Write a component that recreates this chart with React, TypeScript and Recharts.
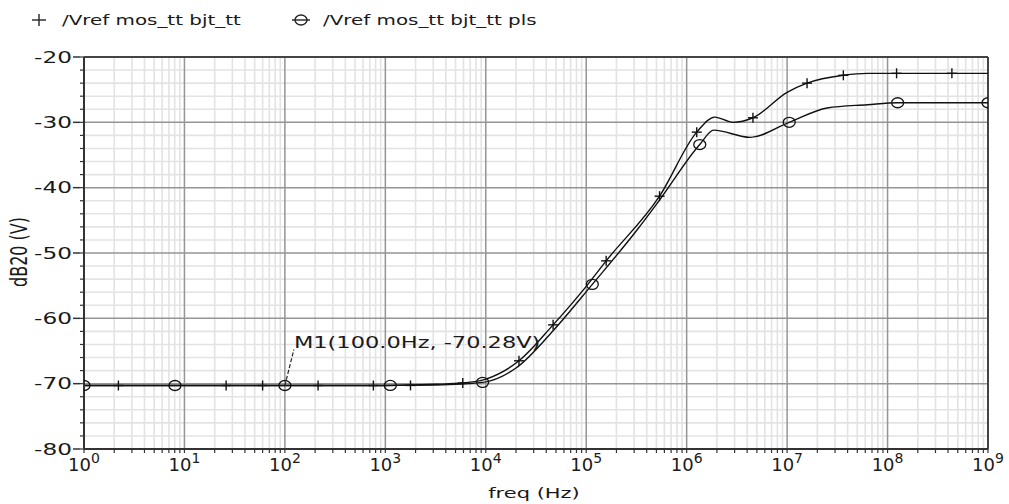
import React from 'react';
import {
  ComposedChart,
  Line,
  XAxis,
  YAxis,
  CartesianGrid,
  ReferenceLine,
  ReferenceDot,
} from 'recharts';

// ---------- data ----------
const seriesNames = ['/Vref mos_tt bjt_tt', '/Vref mos_tt bjt_tt pls'];

// curve 1 (+ markers)
const freqA = [1, 1000, 3160, 5900, 10000, 21400, 46800, 100000, 158000, 537000, 1.26e6, 1.9e6, 2.9e6, 4.57e6, 1e7, 1.58e7, 3.63e7, 6.3e7, 1e9];
const valA = [-70.28, -70.27, -70.1, -69.9, -69.3, -66.5, -61.0, -55.1, -51.2, -41.3, -31.5, -29.2, -30.0, -29.3, -25.4, -24.0, -22.8, -22.5, -22.5];

// curve 2 (o markers)
const freqB = [1, 1000, 3160, 9300, 20000, 46800, 115000, 316000, 537000, 1.35e6, 1.86e6, 4.27e6, 1.05e7, 2.5e7, 6.3e7, 1.26e8, 1e9];
const valB = [-70.28, -70.27, -70.2, -69.8, -67.6, -61.9, -54.8, -46.6, -41.9, -33.4, -31.2, -32.3, -30.0, -27.8, -27.3, -27.0, -27.0];

// marker positions
const markFreqA = [2.2, 26, 60, 214, 760, 1780, 5900, 21400, 46800, 158000, 537000, 1.26e6, 4.57e6, 1.58e7, 3.63e7, 1.23e8, 4.37e8];
const markValA = [-70.28, -70.28, -70.28, -70.28, -70.28, -70.27, -69.9, -66.5, -61.0, -51.2, -41.3, -31.5, -29.3, -24.0, -22.8, -22.5, -22.5];
const markFreqB = [1, 8.05, 100, 1120, 9300, 115000, 1.35e6, 1.05e7, 1.26e8, 1e9];
const markValB = [-70.28, -70.28, -70.28, -70.27, -69.8, -54.8, -33.4, -30.0, -27.0, -27.0];

// marker annotation
const m1Freq = 100;
const m1Val = -70.28;
const m1Label = 'M1(100.0Hz, -70.28V)';

// axes
const decades = [0, 1, 2, 3, 4, 5, 6, 7, 8, 9];
const yMajor = [-80, -70, -60, -50, -40, -30, -20];
const xTitle = 'freq (Hz)';
const yTitle = 'dB20 (V)';

// ---------- derived ----------
const dataA = freqA.map((f, i) => ({ f, v: valA[i] }));
const dataB = freqB.map((f, i) => ({ f, v: valB[i] }));
const marksA = markFreqA.map((f, i) => ({ f, v: markValA[i] }));
const marksB = markFreqB.map((f, i) => ({ f, v: markValB[i] }));

const decadeVals = decades.map((d) => Math.pow(10, d));
const minorX: number[] = [];
for (let d = 0; d < 9; d++) for (let m = 2; m <= 9; m++) minorX.push(m * Math.pow(10, d));
const xTicks = [...decadeVals, ...minorX].sort((a, b) => a - b);
const yTicks: number[] = [];
for (let v = -80; v <= -20; v += 2) yTicks.push(v);
const minorY = yTicks.filter((v) => v % 10 !== 0);

const FONT = '"DejaVu Sans", Verdana, sans-serif';
const INK = '#1a1a1a';

function SText({ x, y, sx = 1.5, size = 15, anchor = 'start', rotate = 0, children }: any) {
  return (
    <g transform={`translate(${x},${y}) scale(${sx},1)${rotate ? ` rotate(${rotate})` : ''}`}>
      <text x={0} y={0} fontSize={size} textAnchor={anchor} fill={INK} fontFamily={FONT}>
        {children}
      </text>
    </g>
  );
}

const isDecade = (v: number) => {
  const l = Math.log10(v);
  return Math.abs(l - Math.round(l)) < 1e-9;
};

const XTick = (props: any) => {
  const { x, y, payload } = props;
  const v = payload.value;
  if (!isDecade(v)) return <g />;
  const e = Math.round(Math.log10(v));
  return (
    <text x={x} y={y + 16} textAnchor="middle" fontFamily={FONT} fontSize={18} fill={INK}>
      <tspan>10</tspan>
      <tspan dy={-8} fontSize={14}>{e}</tspan>
    </text>
  );
};

const YTick = (props: any) => {
  const { x, y, payload } = props;
  const v = payload.value;
  if (v % 10 !== 0) return <g />;
  return (
    <g>
      <line x1={x - 7} y1={y} x2={x} y2={y} stroke="#333" strokeWidth={1.5} />
      <SText x={x - 8} y={y + 5.5} sx={1.55} size={15} anchor="end">
        {String(v)}
      </SText>
    </g>
  );
};

const PlusDot = (props: any) => {
  const { cx, cy } = props;
  if (cx == null || cy == null) return <g />;
  return (
    <g stroke="#111" strokeWidth={1.4}>
      <line x1={cx - 5} y1={cy} x2={cx + 5} y2={cy} />
      <line x1={cx} y1={cy - 5} x2={cx} y2={cy + 5} />
    </g>
  );
};

const CircleDot = (props: any) => {
  const { cx, cy } = props;
  if (cx == null || cy == null) return <g />;
  return <ellipse cx={cx} cy={cy} rx={6} ry={5} fill="none" stroke="#111" strokeWidth={1.3} />;
};

const M1Shape = (props: any) => {
  const { cx, cy } = props;
  if (cx == null || cy == null) return <g />;
  return (
    <g>
      <line x1={cx} y1={cy} x2={cx + 9} y2={cy - 36} stroke="#222" strokeWidth={1.2} strokeDasharray="4 2" />
      <SText x={cx + 9} y={cy - 37} sx={1.5} size={15}>
        {m1Label}
      </SText>
    </g>
  );
};

export default function App() {
  return (
    <div style={{ position: 'absolute', left: 0, top: 0, width: 1009, height: 504, background: '#fff' }}>
      <div style={{ position: 'absolute', left: 0, top: 0 }}>
        <ComposedChart width={1009} height={504} margin={{ top: 57, right: 21, bottom: 0, left: 0 }}>
          <CartesianGrid
            stroke="#e3e3e3"
            strokeWidth={1.6}
            verticalValues={minorX}
            horizontalValues={minorY}
          />
          <CartesianGrid
            stroke="#959595"
            strokeWidth={1.5}
            verticalValues={decadeVals}
            horizontalValues={yMajor}
          />
          <XAxis
            dataKey="f"
            type="number"
            scale="log"
            domain={[1, 1e9]}
            ticks={xTicks}
            interval={0}
            height={55}
            tickSize={4}
            tickMargin={2}
            tick={<XTick />}
            axisLine={{ stroke: '#333', strokeWidth: 2 }}
            tickLine={{ stroke: '#333', strokeWidth: 1.2 }}
            allowDataOverflow
          />
          <YAxis
            type="number"
            domain={[-80, -20]}
            ticks={yTicks}
            interval={0}
            width={84}
            tickSize={4}
            tickMargin={0}
            tick={<YTick />}
            axisLine={{ stroke: '#333', strokeWidth: 2 }}
            tickLine={{ stroke: '#333', strokeWidth: 1.2 }}
            allowDataOverflow
          />
          <ReferenceLine y={-20} stroke="#444" strokeWidth={2} />
          <ReferenceLine x={1e9} stroke="#444" strokeWidth={2} />
          <Line data={dataA} dataKey="v" type="monotone" stroke="#111" strokeWidth={1.4} dot={false} isAnimationActive={false} />
          <Line data={dataB} dataKey="v" type="monotone" stroke="#111" strokeWidth={1.4} dot={false} isAnimationActive={false} />
          <Line data={marksA} dataKey="v" stroke="none" dot={<PlusDot />} activeDot={false} isAnimationActive={false} />
          <Line data={marksB} dataKey="v" stroke="none" dot={<CircleDot />} activeDot={false} isAnimationActive={false} />
          <ReferenceDot x={m1Freq} y={m1Val} r={0} shape={<M1Shape />} />
        </ComposedChart>
      </div>
      <svg
        width={1009}
        height={504}
        style={{ position: 'absolute', left: 0, top: 0, pointerEvents: 'none' }}
      >
        {/* legend */}
        <g stroke="#222" strokeWidth={1.4}>
          <line x1={32} y1={20} x2={46} y2={20} />
          <line x1={39} y1={14} x2={39} y2={26} />
          <line x1={292} y1={20} x2={310} y2={20} />
          <ellipse cx={301} cy={20} rx={6} ry={5} fill="none" />
        </g>
        <SText x={62} y={25} sx={1.42} size={14}>{seriesNames[0]}</SText>
        <SText x={323} y={25} sx={1.42} size={14}>{seriesNames[1]}</SText>
        {/* axis titles */}
        <SText x={534} y={498} sx={1.5} size={14} anchor="middle">{xTitle}</SText>
        <SText x={27} y={252} sx={1.45} size={16} anchor="middle" rotate={-90}>{yTitle}</SText>
      </svg>
    </div>
  );
}
